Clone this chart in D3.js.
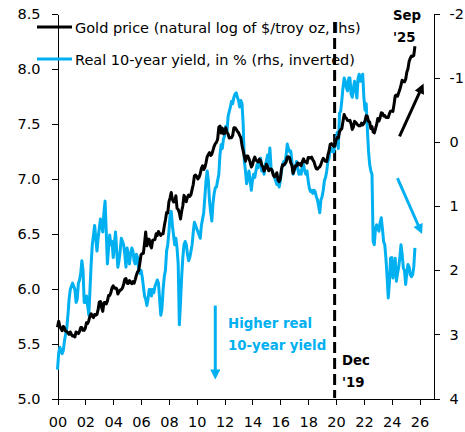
<!DOCTYPE html>
<html>
<head>
<meta charset="utf-8">
<script src="https://cdn.jsdelivr.net/npm/d3@7"></script>
<style>
  body { margin: 0; background: #fff; }
  svg { display: block; }
  text { font-family: "DejaVu Sans", Verdana, sans-serif; }
</style>
</head>
<body>
<div id="chart"></div>
<script>
// Monthly data, Jan 2000 to Sep 2025
const startYear = 2000;

// Gold price, monthly average in $/troy oz (plotted as natural log)
const goldUsd = [
  284, 300, 286, 280, 275, 286, 282, 274, 273, 270, 266, 272,        // 2000
  266, 262, 263, 260, 272, 270, 268, 273, 283, 283, 276, 276,        // 2001
  282, 296, 294, 302, 314, 321, 314, 310, 319, 317, 319, 333,        // 2002
  357, 359, 340, 328, 355, 356, 351, 360, 379, 379, 389, 407,        // 2003
  414, 405, 406, 404, 384, 392, 398, 400, 406, 420, 439, 442,        // 2004
  424, 423, 434, 429, 422, 430, 424, 438, 456, 470, 476, 510,        // 2005
  549, 555, 557, 610, 676, 596, 633, 632, 598, 585, 627, 629,        // 2006
  631, 665, 655, 679, 667, 655, 665, 665, 712, 754, 806, 803,        // 2007
  889, 922, 968, 909, 888, 889, 939, 839, 829, 806, 760, 816,        // 2008
  858, 943, 924, 890, 928, 946, 934, 949, 996, 1043, 1127, 1134,     // 2009
  1118, 1095, 1113, 1148, 1205, 1233, 1193, 1215, 1271, 1342, 1370, 1391, // 2010
  1356, 1372, 1424, 1474, 1510, 1529, 1573, 1756, 1772, 1665, 1739, 1652, // 2011
  1656, 1743, 1675, 1649, 1589, 1596, 1594, 1630, 1745, 1747, 1721, 1688, // 2012
  1670, 1627, 1593, 1487, 1414, 1343, 1287, 1348, 1348, 1316, 1275, 1221, // 2013
  1244, 1300, 1336, 1299, 1287, 1279, 1311, 1296, 1239, 1222, 1176, 1202, // 2014
  1251, 1227, 1179, 1198, 1199, 1181, 1131, 1117, 1125, 1159, 1086, 1068, // 2015
  1097, 1199, 1246, 1242, 1260, 1276, 1337, 1340, 1326, 1267, 1238, 1152, // 2016
  1192, 1234, 1231, 1266, 1246, 1260, 1236, 1283, 1315, 1280, 1283, 1265, // 2017
  1331, 1331, 1325, 1335, 1303, 1282, 1238, 1202, 1198, 1215, 1221, 1250, // 2018
  1291, 1320, 1300, 1285, 1284, 1359, 1413, 1500, 1510, 1495, 1471, 1480, // 2019
  1560, 1597, 1591, 1683, 1715, 1732, 1846, 1968, 1921, 1900, 1866, 1858, // 2020
  1867, 1808, 1718, 1760, 1850, 1834, 1807, 1785, 1775, 1777, 1821, 1790, // 2021
  1817, 1856, 1948, 1937, 1849, 1837, 1733, 1765, 1680, 1665, 1726, 1798, // 2022
  1898, 1855, 1913, 1999, 1992, 1942, 1951, 1918, 1916, 1916, 1985, 2030, // 2023
  2034, 2024, 2159, 2331, 2351, 2326, 2398, 2470, 2572, 2690, 2651, 2650, // 2024
  2709, 2895, 2984, 3193, 3288, 3352, 3340, 3368, 3665                    // 2025
];

// Real 10-year yield, % (right axis, inverted)
const realYield = [
  3.55, 3.3, 3.2, 3.25, 3.3, 3.25, 3.1, 3.0, 2.9, 2.7, 2.45, 2.3,        // 2000
  2.25, 2.2, 2.25, 2.3, 2.5, 2.45, 2.2, 2.15, 2.05, 1.85, 2.0, 2.5,      // 2001
  2.5, 2.4, 2.55, 2.7, 2.3, 1.9, 1.6, 1.45, 1.3, 1.5, 1.7, 1.5,          // 2002
  1.35, 1.2, 1.3, 1.4, 1.1, 0.92, 1.4, 1.9, 1.65, 1.45, 1.6, 1.55,       // 2003
  1.8, 1.6, 1.4, 1.7, 1.95, 1.85, 1.7, 1.5, 1.55, 1.6, 1.75, 1.95,       // 2004
  1.65, 1.75, 1.9, 1.75, 1.65, 1.7, 1.85, 1.9, 1.75, 1.8, 2.0, 2.05,     // 2005
  2.0, 2.1, 2.25, 2.4, 2.45, 2.55, 2.45, 2.3, 2.3, 2.4, 2.3, 2.35,       // 2006
  2.25, 2.2, 2.15, 2.2, 2.45, 2.7, 2.6, 2.3, 2.1, 2.0, 1.7, 1.6,         // 2007
  1.4, 1.15, 1.08, 1.3, 1.45, 1.6, 1.5, 1.65, 1.9, 2.85, 2.5, 2.1,       // 2008
  1.8, 1.6, 1.55, 1.6, 1.75, 1.85, 1.8, 1.7, 1.6, 1.4, 1.25, 1.3,        // 2009
  1.35, 1.4, 1.45, 1.5, 1.3, 1.2, 1.1, 0.85, 0.6, 0.45, 0.6, 0.92,       // 2010
  1.1, 1.23, 0.95, 0.8, 0.71, 0.7, 0.6, 0.5, 0.2, 0.04, 0.1, -0.05,      // 2011
  -0.1, -0.25, -0.15, -0.4, -0.48, -0.55, -0.64, -0.6, -0.7, -0.75, -0.77, -0.7, // 2012
  -0.65, -0.55, -0.65, -0.6, -0.28, 0.3, 0.45, 0.65, 0.55, 0.45, 0.6, 0.75,      // 2013
  0.6, 0.5, 0.55, 0.45, 0.35, 0.4, 0.3, 0.25, 0.45, 0.4, 0.5, 0.35,      // 2014
  0.3, 0.2, 0.35, 0.09, 0.4, 0.45, 0.5, 0.55, 0.6, 0.66, 0.6, 0.7,       // 2015
  0.6, 0.45, 0.35, 0.3, 0.35, 0.2, 0.03, 0.1, 0.15, 0.14, 0.3, 0.5,      // 2016
  0.45, 0.4, 0.3, 0.4, 0.5, 0.45, 0.5, 0.35, 0.35, 0.45, 0.5, 0.45,      // 2017
  0.6, 0.72, 0.77, 0.75, 0.8, 0.75, 0.77, 0.85, 0.9, 1.0, 1.1, 0.9,      // 2018
  0.85, 0.75, 0.6, 0.55, 0.45, 0.3, 0.25, 0.1, 0.1, 0.15, 0.15, 0.05,    // 2019
  0.0, -0.15, 0.1, -0.45, -0.48, -0.65, -0.85, -1.0, -0.95, -0.85, -0.8, -1.0,   // 2020
  -1.0, -0.75, -0.7, -0.85, -0.95, -0.8, -0.69, -1.0, -1.06, -0.95, -1.0, -1.06, // 2021
  -0.7, -0.5, -0.6, -0.2, 0.14, 0.35, 0.45, 0.5, 1.55, 1.6, 1.35, 1.29,  // 2022
  1.35, 1.39, 1.25, 1.18, 1.35, 1.55, 1.6, 1.81, 2.1, 2.43, 2.2, 1.81,   // 2023
  1.8, 2.12, 1.95, 1.81, 2.17, 2.05, 1.95, 1.8, 1.6, 1.75, 1.96, 2.0,    // 2024
  2.22, 2.05, 1.91, 1.95, 2.07, 2.1, 2.07, 1.95, 1.65                    // 2025
];

const leftTicks = [5.0, 5.5, 6.0, 6.5, 7.0, 7.5, 8.0, 8.5];
const rightTicks = [-2, -1, 0, 1, 2, 3, 4];
const yearTicks = [2000, 2002, 2004, 2006, 2008, 2010, 2012, 2014, 2016, 2018, 2020, 2022, 2024, 2026];
const yearLabels = ["00", "02", "04", "06", "08", "10", "12", "14", "16", "18", "20", "22", "24", "26"];

const legendItems = [
  {label: "Gold price (natural log of $/troy oz, lhs)", color: "#000000"},
  {label: "Real 10-year yield, in % (rhs, inverted)", color: "#00B0F0"}
];

const width = 465, height = 432;
const gold = "#000000", blue = "#00B0F0";

const svg = d3.select("#chart").append("svg")
  .attr("width", width)
  .attr("height", height);

const x = d3.scaleLinear().domain([2000, 2027]).range([57.5, 433.5]);
const yL = d3.scaleLinear().domain([5, 8.5]).range([398.5, 14]);
const yR = d3.scaleLinear().domain([-2, 4]).range([14, 398.5]);

const monthX = i => x(startYear + i / 12);

// arrow heads
const defs = svg.append("defs");
[["head-black", gold], ["head-blue", blue]].forEach(([id, c]) => {
  defs.append("marker")
    .attr("id", id)
    .attr("viewBox", "0 0 10 10")
    .attr("refX", 2).attr("refY", 5)
    .attr("markerWidth", 11).attr("markerHeight", 10)
    .attr("markerUnits", "userSpaceOnUse")
    .attr("orient", "auto")
    .append("path")
    .attr("d", "M0,0 L10,5 L0,10 Z")
    .attr("fill", c);
});

// axes
const axisL = svg.append("g")
  .attr("transform", "translate(57.5,0)")
  .call(d3.axisLeft(yL).tickValues(leftTicks).tickFormat(d3.format(".1f"))
    .tickSize(6).tickPadding(11).tickSizeOuter(0));

const axisR = svg.append("g")
  .attr("transform", "translate(433.5,0)")
  .call(d3.axisRight(yR).tickValues(rightTicks).tickFormat(d => String(d))
    .tickSize(6).tickPadding(10).tickSizeOuter(0));

const axisB = svg.append("g")
  .attr("transform", "translate(0,398.5)")
  .call(d3.axisBottom(x).tickValues(yearTicks).tickFormat((d, i) => yearLabels[i])
    .tickSize(6).tickPadding(12).tickSizeOuter(0));

[axisL, axisR, axisB].forEach(g => {
  g.selectAll("path, line").attr("stroke", "#000").attr("shape-rendering", "crispEdges");
  g.selectAll("text").attr("fill", "#000").style("font-size", "14.5px");
});

// Dec '19 marker
svg.append("line")
  .attr("x1", x(2019.9)).attr("x2", x(2019.9))
  .attr("y1", 22).attr("y2", 398)
  .attr("stroke", "#000").attr("stroke-width", 3)
  .attr("stroke-dasharray", "11,5");

// series
const yieldLine = d3.line().x((d, i) => monthX(i)).y(d => yR(d));
const goldLine = d3.line().x((d, i) => monthX(i)).y(d => yL(Math.log(d)));

svg.append("path")
  .datum(realYield)
  .attr("d", yieldLine)
  .attr("fill", "none")
  .attr("stroke", blue)
  .attr("stroke-width", 3)
  .attr("stroke-linejoin", "round");

svg.append("path")
  .datum(goldUsd)
  .attr("d", goldLine)
  .attr("fill", "none")
  .attr("stroke", gold)
  .attr("stroke-width", 3)
  .attr("stroke-linejoin", "round");

// legend
legendItems.forEach((d, i) => {
  const ly = 27 + i * 32;
  svg.append("line")
    .attr("x1", 37).attr("x2", 72)
    .attr("y1", ly).attr("y2", ly)
    .attr("stroke", d.color).attr("stroke-width", 3);
  svg.append("text")
    .attr("x", 75).attr("y", ly + 5.5)
    .style("font-size", "14.5px")
    .attr("fill", "#000")
    .text(d.label);
});

// annotations
svg.append("line")
  .attr("x1", x(2024.56)).attr("y1", yR(-0.09))
  .attr("x2", x(2026.05)).attr("y2", yR(-0.8))
  .attr("stroke", gold).attr("stroke-width", 3)
  .attr("marker-end", "url(#head-black)");

svg.append("line")
  .attr("x1", x(2024.41)).attr("y1", yR(0.56))
  .attr("x2", x(2025.95)).attr("y2", yR(1.32))
  .attr("stroke", blue).attr("stroke-width", 3)
  .attr("marker-end", "url(#head-blue)");

svg.append("line")
  .attr("x1", x(2011.33)).attr("y1", yR(2.55))
  .attr("x2", x(2011.33)).attr("y2", yR(3.58))
  .attr("stroke", blue).attr("stroke-width", 3)
  .attr("marker-end", "url(#head-blue)");

const note = (tx, ty, str, color) => svg.append("text")
  .attr("x", tx).attr("y", ty)
  .style("font-size", "13.3px").style("font-weight", "bold")
  .attr("fill", color).text(str);

note(228, 328, "Higher real", blue);
note(228, 350, "10-year yield", blue);
note(342, 365, "Dec", "#000");
note(342, 387, "'19", "#000");
note(393, 20, "Sep", "#000");
note(393, 42, "'25", "#000");
</script>
</body>
</html>
